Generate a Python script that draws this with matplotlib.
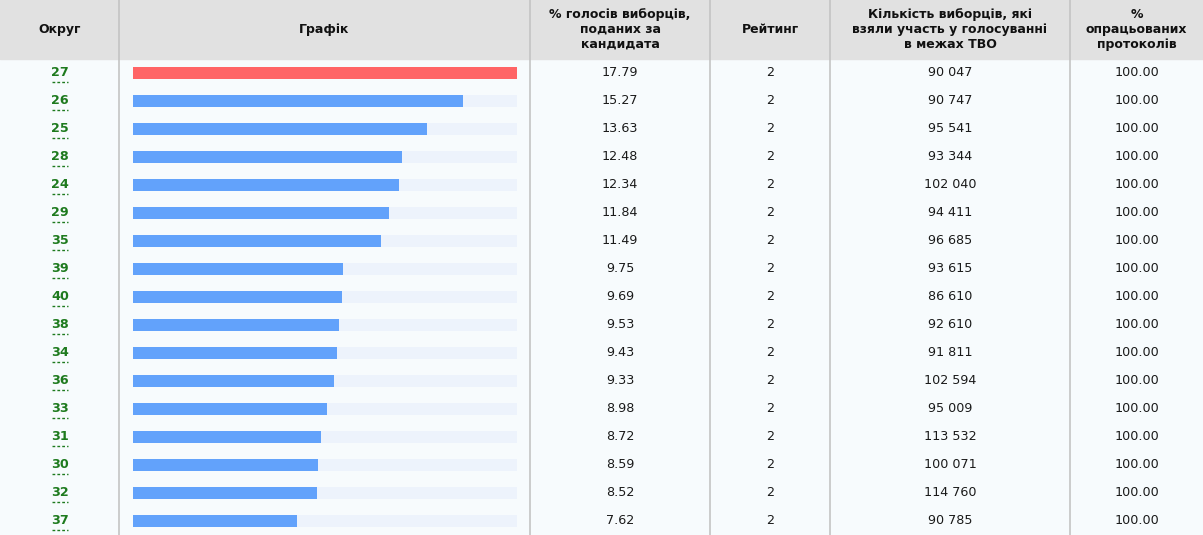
import matplotlib.pyplot as plt
from matplotlib.patches import Rectangle

districts = ['27', '26', '25', '28', '24', '29', '35', '39', '40', '38', '34',
             '36', '33', '31', '30', '32', '37']
percent = [17.79, 15.27, 13.63, 12.48, 12.34, 11.84, 11.49, 9.75, 9.69, 9.53,
           9.43, 9.33, 8.98, 8.72, 8.59, 8.52, 7.62]
rating = [2] * 17
voters = [90047, 90747, 95541, 93344, 102040, 94411, 96685, 93615, 86610,
          92610, 91811, 102594, 95009, 113532, 100071, 114760, 90785]
processed = [100.00] * 17
headers = ['Округ', 'Графік', '% голосів виборців,\nподаних за\nкандидата',
           'Рейтинг', 'Кількість виборців, які\nвзяли участь у голосуванні\nв межах ТВО',
           '%\nопрацьованих\nпротоколів']

W, H = 1203, 535
col_edges = [0, 119, 530, 710, 830, 1070, 1203]
header_h = 59
row_h = 28

fig = plt.figure(figsize=(W / 100, H / 100), dpi=100)
fig.patch.set_facecolor('#f7fbfd')
ax = fig.add_axes([0, 0, 1, 1])
ax.set_xlim(0, W)
ax.set_ylim(H, 0)
ax.axis('off')

# header
ax.add_patch(Rectangle((0, 0), W, header_h, color='#e1e1e1', zorder=0))
for e in col_edges[1:-1]:
    ax.plot([e, e], [0, H], color='#c4c4c4', lw=1.2, zorder=1)
for i, h in enumerate(headers):
    cx = (col_edges[i] + col_edges[i + 1]) / 2
    ax.text(cx, header_h / 2, h, ha='center', va='center', fontsize=9.0,
            fontweight='bold', color='#111111', linespacing=1.2)

# text cells
txt = dict(ha='center', va='center', fontsize=9.2, color='#1a1a1a')
for r in range(len(districts)):
    y = header_h + row_h * r + 14
    ax.text(60, y, districts[r], ha='center', va='center', fontsize=9.2,
            fontweight='bold', color='#1e7a1e')
    ax.plot([52, 68], [y + 9, y + 9], color='#1e7a1e', lw=1, ls=(0, (2, 1.5)))
    ax.text(620, y, f'{percent[r]:.2f}', **txt)
    ax.text(770, y, str(rating[r]), **txt)
    ax.text(950, y, f'{voters[r]:,}'.replace(',', ' '), **txt)
    ax.text(1136.5, y, f'{processed[r]:.2f}', **txt)

# bar column
bx = fig.add_axes([133 / W, 0, (517 - 133) / W, (H - header_h) / H])
bx.axis('off')
bx.patch.set_alpha(0)
ypos = list(range(len(districts)))
top = max(percent)
bx.barh(ypos, [top] * len(districts), height=12 / row_h, color='#edf3fc')
colors = ['#ff6466'] + ['#62a2fb'] * (len(districts) - 1)
bx.barh(ypos, percent, height=12 / row_h, color=colors)
bx.set_xlim(0, top)
bx.set_ylim((H - header_h) / row_h - 0.5, -0.5)

fig.savefig('out.png', dpi=100, facecolor=fig.get_facecolor())
